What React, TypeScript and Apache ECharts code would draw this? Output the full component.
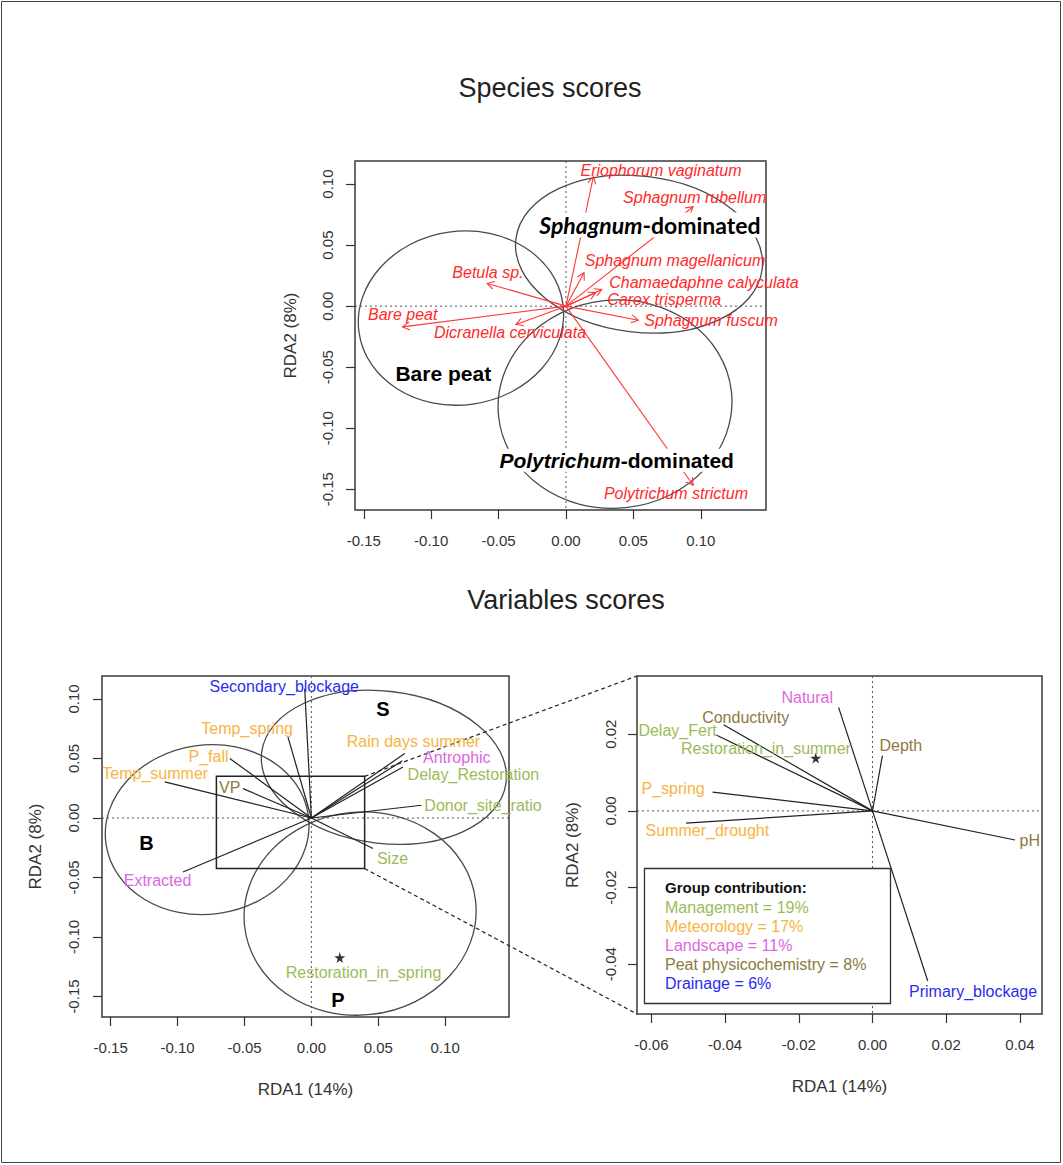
import React, { useEffect, useRef } from "react";
import * as echarts from "echarts";

const FONT = "'Liberation Sans', Arial, Helvetica, sans-serif";

// ---------- Species scores (top biplot) ----------
const speciesNames = [
  "Eriophorum vaginatum",
  "Sphagnum rubellum",
  "Sphagnum magellanicum",
  "Chamaedaphne calyculata",
  "Carex trisperma",
  "Sphagnum fuscum",
  "Betula sp.",
  "Bare peat",
  "Dicranella cerviculata",
  "Polytrichum strictum",
];
const speciesRDA1 = [0.0203, 0.0943, 0.0134, 0.0265, 0.022, 0.0537, -0.0584, -0.1212, -0.0371, 0.0944];
const speciesRDA2 = [0.106, 0.0814, 0.0273, 0.0137, 0.011, -0.0115, 0.0186, -0.017, -0.015, -0.1467];
const speciesLabelRDA1 = [0.0705, 0.0955, 0.0809, 0.1024, 0.0729, 0.1076, -0.0579, -0.1211, -0.0415, 0.0816];
const speciesLabelRDA2 = [0.1115, 0.0888, 0.0377, 0.0191, 0.0057, -0.0115, 0.0279, -0.0066, -0.0219, -0.1533];

// Community-type ellipses (same ordination space in both biplots)
const ellipseCenterRDA1 = [0.0542, -0.0779, 0.0364];
const ellipseCenterRDA2 = [0.0426, -0.0098, -0.0803];
const ellipseRadiusRDA1 = [0.092, 0.0764, 0.0868];
const ellipseRadiusRDA2 = [0.0639, 0.0711, 0.0852];
const ellipseTiltDeg = [-7, 8, 6];

// Community-type captions on the species plot
const communityItalic = ["Sphagnum", "", "Polytrichum"];
const communityPlain = ["-dominated", "Bare peat", "-dominated"];
const communityRDA1 = [0.0623, -0.091, 0.0376];
const communityRDA2 = [0.0664, -0.0552, -0.1262];

// ---------- Explanatory groups ----------
const groupNames = ["Management", "Meteorology", "Landscape", "Peat physicochemistry", "Drainage"];
const groupShare = [19, 17, 11, 8, 6];
const groupColors = ["#9bbb59", "#f9b342", "#dd66dd", "#8d7a3e", "#2b2bf0"];

// ---------- Variables scores, full view ----------
const varNames = [
  "Secondary_blockage",
  "Temp_spring",
  "P_fall",
  "Temp_summer",
  "VP",
  "Rain days summer",
  "Antrophic",
  "Delay_Restoration",
  "Donor_site_ratio",
  "Size",
  "Extracted",
];
const varGroup = [4, 1, 1, 1, 3, 1, 2, 0, 0, 0, 2];
const varRDA1 = [-0.005, -0.0175, -0.061, -0.1096, -0.0511, 0.0697, 0.068, 0.0685, 0.0822, 0.046, -0.096];
const varRDA2 = [0.1087, 0.068, 0.05, 0.0303, 0.0247, 0.0541, 0.048, 0.0429, 0.0107, -0.0257, -0.0454];
const varLabelRDA1 = [-0.0203, -0.048, -0.0769, -0.1167, -0.0611, 0.0763, 0.1087, 0.1211, 0.1283, 0.0606, -0.115];
const varLabelRDA2 = [0.1101, 0.0756, 0.0518, 0.0373, 0.0255, 0.0639, 0.0508, 0.0367, 0.0101, -0.0341, -0.0524];

const varFactorNames = ["Restoration_in_spring"];
const varFactorGroup = [0];
const varFactorRDA1 = [0.0212];
const varFactorRDA2 = [-0.1173];
const varFactorLabelRDA1 = [0.039];
const varFactorLabelRDA2 = [-0.1299];

const siteGroupLetters = ["B", "S", "P"];
const siteGroupRDA1 = [-0.1233, 0.0535, 0.0199];
const siteGroupRDA2 = [-0.021, 0.0919, -0.1532];

// ---------- Variables scores, enlarged centre ----------
const zoomNames = ["Natural", "Conductivity", "Delay_Fert", "Depth", "P_spring", "Summer_drought", "pH", "Primary_blockage"];
const zoomGroup = [2, 3, 0, 3, 1, 1, 3, 4];
const zoomRDA1 = [-0.0092, -0.0404, -0.0424, 0.0027, -0.0434, -0.0506, 0.0387, 0.015];
const zoomRDA2 = [0.027, 0.0225, 0.0198, 0.0144, 0.0049, -0.0032, -0.0076, -0.0444];
const zoomLabelRDA1 = [-0.0177, -0.0344, -0.0529, 0.0077, -0.0541, -0.0448, 0.0427, 0.0273];
const zoomLabelRDA2 = [0.0297, 0.0244, 0.021, 0.017, 0.0059, -0.0051, -0.0076, -0.0472];

const zoomFactorNames = ["Restoration_in_summer"];
const zoomFactorGroup = [0];
const zoomFactorRDA1 = [-0.0154];
const zoomFactorRDA2 = [0.0138];
const zoomFactorLabelRDA1 = [-0.0289];
const zoomFactorLabelRDA2 = [0.0164];

// ---------- Axis ranges and ticks ----------
const speciesRangeRDA1 = [-0.1565, 0.1484];
const speciesRangeRDA2 = [-0.167, 0.1189];
const varRangeRDA1 = [-0.1565, 0.1477];
const varRangeRDA2 = [-0.1672, 0.1193];
const zoomRangeRDA1 = [-0.0639, 0.046];
const zoomRangeRDA2 = [-0.053, 0.0352];
const zoomWindowRDA1 = [-0.071, 0.0398];
const zoomWindowRDA2 = [-0.0425, 0.035];

const wideTicks = [-0.15, -0.1, -0.05, 0, 0.05, 0.1];
const zoomTicksRDA1 = [-0.06, -0.04, -0.02, 0, 0.02, 0.04];
const zoomTicksRDA2 = [-0.04, -0.02, 0, 0.02];

const STAR = "path://M50,0 L61,35 L98,35 L68,57 L79,91 L50,70 L21,91 L32,57 L2,35 L39,35 Z";
const AXIS_COLOR = "#333";

const pairs = (xs: number[], ys: number[]) => xs.map((x, i) => [x, ys[i]]);

function xAxisDef(gridIndex: number, range: number[], ticks: number[], name?: string) {
  return {
    type: "value",
    gridIndex,
    min: range[0],
    max: range[1],
    axisLine: { show: false, onZero: false },
    splitLine: { show: false },
    axisTick: { show: true, length: 9, customValues: ticks, lineStyle: { color: AXIS_COLOR, width: 1.2 } },
    axisLabel: {
      customValues: ticks,
      formatter: (v: number) => v.toFixed(2),
      color: AXIS_COLOR,
      fontSize: 15,
      fontFamily: FONT,
      margin: 23,
    },
    name: name || "",
    nameLocation: "middle",
    nameGap: 64,
    nameTextStyle: { color: AXIS_COLOR, fontSize: 17, fontFamily: FONT },
  };
}

function yAxisDef(gridIndex: number, range: number[], ticks: number[], nameGap: number, margin: number) {
  return {
    type: "value",
    gridIndex,
    min: range[0],
    max: range[1],
    axisLine: { show: false, onZero: false },
    splitLine: { show: false },
    axisTick: { show: true, length: 9, customValues: ticks, lineStyle: { color: AXIS_COLOR, width: 1.2 } },
    axisLabel: {
      customValues: ticks,
      formatter: (v: number) => v.toFixed(2),
      color: AXIS_COLOR,
      fontSize: 15,
      fontFamily: FONT,
      rotate: 90,
      margin,
    },
    name: "RDA2 (8%)",
    nameLocation: "middle",
    nameRotate: 90,
    nameGap,
    nameTextStyle: { color: AXIS_COLOR, fontSize: 17, fontFamily: FONT },
  };
}

function zeroLines(axisIndex: number) {
  return {
    type: "custom",
    xAxisIndex: axisIndex,
    yAxisIndex: axisIndex,
    silent: true,
    z: 1,
    data: [[0, 0]],
    encode: { x: 0, y: 1 },
    renderItem: (params: any, api: any) => {
      const o = api.coord([0, 0]);
      const cs = params.coordSys;
      const st = { stroke: "#555", lineWidth: 1, lineDash: [2, 3] };
      return {
        type: "group",
        children: [
          { type: "line", shape: { x1: cs.x, y1: o[1], x2: cs.x + cs.width, y2: o[1] }, style: st },
          { type: "line", shape: { x1: o[0], y1: cs.y, x2: o[0], y2: cs.y + cs.height }, style: st },
        ],
      };
    },
  };
}

function ellipses(axisIndex: number) {
  return {
    type: "custom",
    xAxisIndex: axisIndex,
    yAxisIndex: axisIndex,
    silent: true,
    z: 2,
    data: ellipseCenterRDA1.map((x, i) => [x, ellipseCenterRDA2[i], ellipseRadiusRDA1[i], ellipseRadiusRDA2[i], ellipseTiltDeg[i]]),
    encode: { x: 0, y: 1 },
    renderItem: (_p: any, api: any) => {
      const c = api.coord([api.value(0), api.value(1)]);
      const s = api.size([api.value(2), api.value(3)]);
      return {
        type: "ellipse",
        x: c[0],
        y: c[1],
        rotation: (api.value(4) * Math.PI) / 180,
        shape: { cx: 0, cy: 0, rx: s[0], ry: s[1] },
        style: { fill: "none", stroke: "#4a4a4a", lineWidth: 1.3 },
      };
    },
  };
}

function vectors(axisIndex: number, xs: number[], ys: number[], color: string, width: number, arrow: boolean) {
  return {
    type: "custom",
    xAxisIndex: axisIndex,
    yAxisIndex: axisIndex,
    silent: true,
    z: 3,
    data: pairs(xs, ys),
    encode: { x: 0, y: 1 },
    renderItem: (_p: any, api: any) => {
      const o = api.coord([0, 0]);
      const p = api.coord([api.value(0), api.value(1)]);
      const children: any[] = [
        { type: "line", shape: { x1: o[0], y1: o[1], x2: p[0], y2: p[1] }, style: { stroke: color, lineWidth: width } },
      ];
      if (arrow) {
        const a = Math.atan2(p[1] - o[1], p[0] - o[0]);
        const L = 8;
        const phi = Math.PI / 6;
        children.push({
          type: "polyline",
          shape: {
            points: [
              [p[0] - L * Math.cos(a - phi), p[1] - L * Math.sin(a - phi)],
              [p[0], p[1]],
              [p[0] - L * Math.cos(a + phi), p[1] - L * Math.sin(a + phi)],
            ],
          },
          style: { stroke: color, fill: "none", lineWidth: width },
        });
      }
      return { type: "group", children };
    },
  };
}

function labels(axisIndex: number, xs: number[], ys: number[], texts: string[], colors: string[], font: string) {
  return {
    type: "custom",
    xAxisIndex: axisIndex,
    yAxisIndex: axisIndex,
    silent: true,
    z: 5,
    data: pairs(xs, ys),
    encode: { x: 0, y: 1 },
    renderItem: (params: any, api: any) => {
      const p = api.coord([api.value(0), api.value(1)]);
      const i = params.dataIndex;
      return {
        type: "text",
        x: p[0],
        y: p[1],
        style: {
          text: texts[i],
          fill: colors[i],
          font,
          align: "center",
          verticalAlign: "middle",
          textAlign: "center",
          textVerticalAlign: "middle",
        },
      };
    },
  };
}

function communityCaptions() {
  const fonts = ["Lato, 'Open Sans', sans-serif", FONT, FONT];
  const sizes = [23, 21, 21];
  return {
    type: "custom",
    xAxisIndex: 0,
    yAxisIndex: 0,
    silent: true,
    z: 6,
    data: pairs(communityRDA1, communityRDA2),
    encode: { x: 0, y: 1 },
    renderItem: (params: any, api: any) => {
      const p = api.coord([api.value(0), api.value(1)]);
      const i = params.dataIndex;
      const text = (communityItalic[i] ? `{i|${communityItalic[i]}}` : "") + `{n|${communityPlain[i]}}`;
      return {
        type: "text",
        x: p[0],
        y: p[1],
        style: {
          text,
          rich: {
            i: { font: `italic bold ${sizes[i]}px ${fonts[i]}`, fill: "#000" },
            n: { font: `bold ${sizes[i]}px ${fonts[i]}`, fill: "#000" },
          },
          backgroundColor: "#fff",
          padding: [1, 1],
          align: "center",
          verticalAlign: "middle",
          textAlign: "center",
          textVerticalAlign: "middle",
        },
      };
    },
  };
}

function zoomWindow() {
  return {
    type: "custom",
    xAxisIndex: 1,
    yAxisIndex: 1,
    silent: true,
    z: 3,
    data: [[zoomWindowRDA1[0], zoomWindowRDA2[0], zoomWindowRDA1[1], zoomWindowRDA2[1]]],
    encode: { x: [0, 2], y: [1, 3] },
    renderItem: (_p: any, api: any) => {
      const a = api.coord([api.value(0), api.value(3)]);
      const b = api.coord([api.value(2), api.value(1)]);
      return {
        type: "rect",
        shape: { x: a[0], y: a[1], width: b[0] - a[0], height: b[1] - a[1] },
        style: { fill: "none", stroke: "#222", lineWidth: 1.5 },
      };
    },
  };
}

function stars(axisIndex: number, xs: number[], ys: number[]) {
  return {
    type: "scatter",
    xAxisIndex: axisIndex,
    yAxisIndex: axisIndex,
    silent: true,
    z: 4,
    symbol: STAR,
    symbolSize: 11,
    itemStyle: { color: "#000" },
    data: pairs(xs, ys),
  };
}

function buildOption() {
  const legendLines = groupNames.map((g, i) => ({
    type: "text",
    id: `legend-${i}`,
    left: 665,
    top: 899 + i * 19,
    style: { text: `${g} = ${groupShare[i]}%`, fill: groupColors[i], font: `16px ${FONT}` },
  }));

  return {
    animation: false,
    backgroundColor: "#fff",
    grid: [
      { left: 355, top: 161, width: 411, height: 349 },
      { left: 102, top: 676, width: 407, height: 341 },
      { left: 637, top: 676, width: 405, height: 338 },
    ].map((g) => ({ ...g, show: true, borderColor: "#3a3a3a", borderWidth: 1.5, backgroundColor: "transparent" })),
    xAxis: [
      xAxisDef(0, speciesRangeRDA1, wideTicks),
      xAxisDef(1, varRangeRDA1, wideTicks, "RDA1 (14%)"),
      xAxisDef(2, zoomRangeRDA1, zoomTicksRDA1, "RDA1 (14%)"),
    ],
    yAxis: [
      yAxisDef(0, speciesRangeRDA2, wideTicks, 56, 20),
      yAxisDef(1, varRangeRDA2, wideTicks, 58, 21),
      yAxisDef(2, zoomRangeRDA2, zoomTicksRDA2, 56, 19),
    ],
    graphic: [
      {
        type: "rect",
        id: "frame",
        shape: { x: 1.5, y: 1.5, width: 1059, height: 1161 },
        style: { fill: "none", stroke: "#444", lineWidth: 1 },
        z: 0,
      },
      {
        type: "text",
        id: "title-species",
        x: 550,
        y: 88,
        style: { text: "Species scores", font: `27px ${FONT}`, fill: "#222", align: "center", verticalAlign: "middle" },
      },
      {
        type: "text",
        id: "title-variables",
        x: 566,
        y: 600,
        style: { text: "Variables scores", font: `27px ${FONT}`, fill: "#222", align: "center", verticalAlign: "middle" },
      },
      {
        type: "rect",
        id: "legend-box",
        shape: { x: 644.5, y: 868.5, width: 246, height: 135 },
        style: { fill: "#fff", stroke: "#333", lineWidth: 1.3 },
        z: 10,
      },
      {
        type: "text",
        id: "legend-title",
        left: 665,
        top: 880,
        z: 11,
        style: { text: "Group contribution:", fill: "#111", font: `bold 15px ${FONT}` },
      },
      ...legendLines.map((l) => ({ ...l, z: 11 })),
    ],
    series: [
      // species biplot
      zeroLines(0),
      ellipses(0),
      vectors(0, speciesRDA1, speciesRDA2, "#ff3434", 1.1, true),
      labels(0, speciesLabelRDA1, speciesLabelRDA2, speciesNames, speciesNames.map(() => "#ff2a2a"), `italic 16px ${FONT}`),
      communityCaptions(),
      // variables biplot, full view
      zeroLines(1),
      ellipses(1),
      vectors(1, varRDA1, varRDA2, "#222", 1.2, false),
      zoomWindow(),
      stars(1, varFactorRDA1, varFactorRDA2),
      labels(1, varLabelRDA1, varLabelRDA2, varNames, varGroup.map((g) => groupColors[g]), `16px ${FONT}`),
      labels(
        1,
        varFactorLabelRDA1,
        varFactorLabelRDA2,
        varFactorNames,
        varFactorGroup.map((g) => groupColors[g]),
        `16px ${FONT}`
      ),
      labels(1, siteGroupRDA1, siteGroupRDA2, siteGroupLetters, siteGroupLetters.map(() => "#000"), `bold 20px ${FONT}`),
      // variables biplot, enlarged centre
      zeroLines(2),
      vectors(2, zoomRDA1, zoomRDA2, "#222", 1.2, false),
      stars(2, zoomFactorRDA1, zoomFactorRDA2),
      labels(2, zoomLabelRDA1, zoomLabelRDA2, zoomNames, zoomGroup.map((g) => groupColors[g]), `16px ${FONT}`),
      labels(
        2,
        zoomFactorLabelRDA1,
        zoomFactorLabelRDA2,
        zoomFactorNames,
        zoomFactorGroup.map((g) => groupColors[g]),
        `16px ${FONT}`
      ),
    ],
  };
}

export default function App() {
  const ref = useRef<HTMLDivElement>(null);

  useEffect(() => {
    if (!ref.current) return;
    const chart = echarts.init(ref.current, null, { renderer: "svg" });
    chart.setOption(buildOption() as any);

    // Dashed leader lines from the zoom window to the enlarged panel
    const topFrom = chart.convertToPixel({ gridIndex: 1 } as any, [zoomWindowRDA1[1], zoomWindowRDA2[1]]) as number[];
    const botFrom = chart.convertToPixel({ gridIndex: 1 } as any, [zoomWindowRDA1[1], zoomWindowRDA2[0]]) as number[];
    const topTo = chart.convertToPixel({ gridIndex: 2 } as any, [zoomRangeRDA1[0], zoomRangeRDA2[1]]) as number[];
    const botTo = chart.convertToPixel({ gridIndex: 2 } as any, [zoomRangeRDA1[0], zoomRangeRDA2[0]]) as number[];
    const dash = { stroke: "#222", lineWidth: 1.2, lineDash: [4, 3] };
    chart.setOption({
      graphic: [
        { type: "line", id: "lead-top", shape: { x1: topFrom[0], y1: topFrom[1], x2: topTo[0], y2: topTo[1] }, style: dash, z: 3 },
        { type: "line", id: "lead-bottom", shape: { x1: botFrom[0], y1: botFrom[1], x2: botTo[0], y2: botTo[1] }, style: dash, z: 3 },
      ],
    });

    return () => chart.dispose();
  }, []);

  return (
    <div
      ref={ref}
      style={{ position: "absolute", left: 0, top: 0, width: 1063, height: 1165, background: "#fff" }}
    />
  );
}
